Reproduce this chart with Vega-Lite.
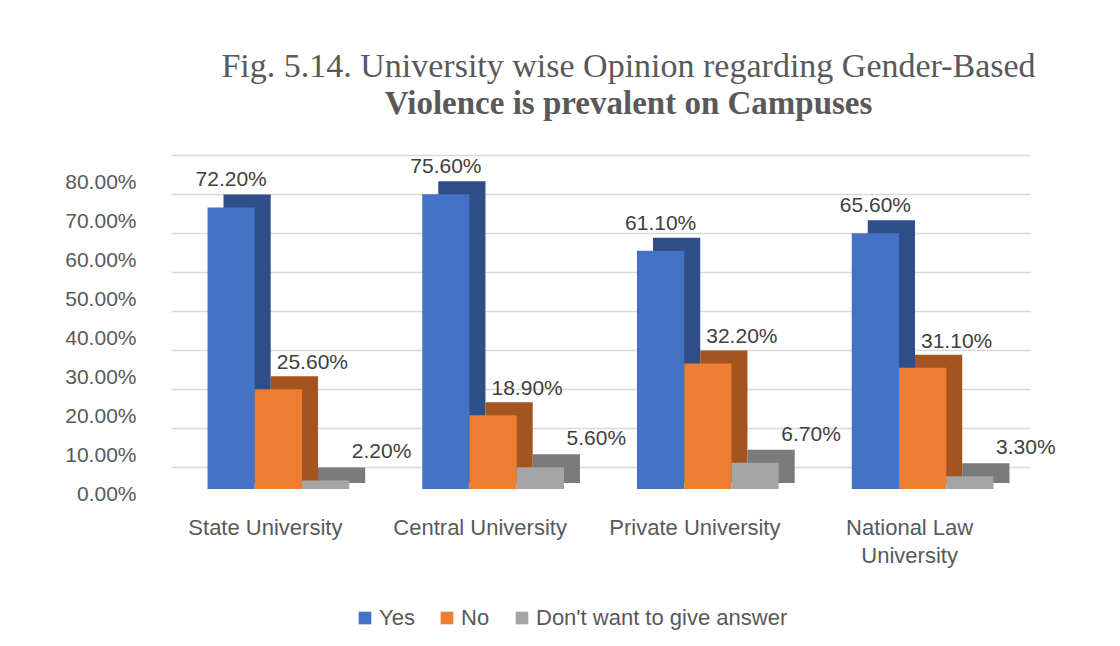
{
  "$schema": "https://vega.github.io/schema/vega-lite/v6.json",
  "autosize": "none",
  "width": 859,
  "height": 312,
  "padding": {"left": 171, "top": 155, "right": 90, "bottom": 179},
  "background": "white",
  "config": {
    "view": {"stroke": null},
    "font": "Liberation Sans"
  },
  "title": {
    "text": "Fig. 5.14.  University wise Opinion regarding  Gender-Based",
    "subtitle": "Violence is prevalent on Campuses",
    "font": "Liberation Serif",
    "fontSize": 34,
    "fontWeight": "normal",
    "color": "#595959",
    "subtitleFont": "Liberation Serif",
    "subtitleFontSize": 33,
    "subtitleFontWeight": "bold",
    "subtitleColor": "#595959",
    "subtitlePadding": 4,
    "anchor": "middle",
    "frame": "group",
    "dx": 28,
    "offset": 34
  },
  "data": {
    "values": [
      {"university": "State University", "response": "Yes", "value": 0.722},
      {"university": "State University", "response": "No", "value": 0.256},
      {"university": "State University", "response": "Don't want to give answer", "value": 0.022},
      {"university": "Central University", "response": "Yes", "value": 0.756},
      {"university": "Central University", "response": "No", "value": 0.189},
      {"university": "Central University", "response": "Don't want to give answer", "value": 0.056},
      {"university": "Private University", "response": "Yes", "value": 0.611},
      {"university": "Private University", "response": "No", "value": 0.322},
      {"university": "Private University", "response": "Don't want to give answer", "value": 0.067},
      {"university": "National Law University", "response": "Yes", "value": 0.656},
      {"university": "National Law University", "response": "No", "value": 0.311},
      {"university": "National Law University", "response": "Don't want to give answer", "value": 0.033}
    ]
  },
  "encoding": {
    "x": {
      "field": "university",
      "type": "nominal",
      "sort": ["State University", "Central University", "Private University", "National Law University"],
      "scale": {"paddingInner": 0.34, "paddingOuter": 0.17},
      "axis": {
        "title": null,
        "labelAngle": 0,
        "domain": false,
        "ticks": false,
        "labelPadding": 50,
        "labelOffset": -13,
        "labelFontSize": 22,
        "labelColor": "#595959",
        "labelFont": "Liberation Sans",
        "labelLineHeight": 28,
        "labelExpr": "datum.label == 'National Law University' ? ['National Law', 'University'] : datum.label"
      }
    },
    "y": {
      "field": "value",
      "type": "quantitative",
      "scale": {"domain": [0, 0.8], "nice": false},
      "axis": {
        "title": null,
        "values": [0, 0.1, 0.2, 0.3, 0.4, 0.5, 0.6, 0.7, 0.8],
        "format": ".2%",
        "domain": false,
        "ticks": false,
        "labelPadding": 35,
        "labelOffset": 27,
        "labelFontSize": 21,
        "labelColor": "#595959",
        "labelFont": "Liberation Sans",
        "grid": true,
        "gridColor": "#D9D9D9",
        "gridWidth": 1.5
      }
    }
  },
  "resolve": {"scale": {"xOffset": "independent"}},
  "layer": [
    {
      "mark": {"type": "bar", "yOffset": 9, "y2Offset": 16},
      "encoding": {
        "xOffset": {
          "field": "response",
          "type": "nominal",
          "sort": ["Yes", "No", "Don't want to give answer"],
          "scale": {"paddingInner": 0, "paddingOuter": 0, "range": [16, 157.7]}
        },
        "y2": {"datum": 0},
        "fill": {
          "condition": [
            {"test": "datum.response == 'Yes'", "value": "#2F4E88"},
            {"test": "datum.response == 'No'", "value": "#A3541F"}
          ],
          "value": "#7A7A7A"
        }
      }
    },
    {
      "encoding": {
        "xOffset": {
          "field": "response",
          "type": "nominal",
          "sort": ["Yes", "No", "Don't want to give answer"],
          "scale": {"paddingInner": 0, "paddingOuter": 0}
        }
      },
      "layer": [
        {
          "mark": {"type": "bar", "yOffset": 22},
          "encoding": {
            "color": {
              "field": "response",
              "type": "nominal",
              "sort": ["Yes", "No", "Don't want to give answer"],
              "scale": {"domain": ["Yes", "No", "Don't want to give answer"], "range": ["#4472C4", "#ED7D31", "#A5A5A5"]},
              "legend": {
                "title": null,
                "orient": "none",
                "legendX": 183,
                "legendY": 452,
                "direction": "horizontal",
                "symbolType": "square",
                "symbolSize": 160,
                "symbolStrokeWidth": 0,
                "labelFontSize": 22,
                "labelColor": "#595959",
                "labelFont": "Liberation Sans",
                "labelOffset": 3,
                "labelLimit": 0,
                "columnPadding": 21
              }
            }
          }
        },
        {
          "transform": [{"filter": "datum.response == 'Yes'"}],
          "mark": {"type": "text", "baseline": "middle", "align": "center", "yOffset": -5, "fontSize": 21, "color": "#404040", "font": "Liberation Sans"},
          "encoding": {"text": {"field": "value", "type": "quantitative", "format": ".2%"}}
        },
        {
          "transform": [{"filter": "datum.response == 'No'"}],
          "mark": {"type": "text", "baseline": "middle", "align": "center", "dx": 34, "yOffset": -4, "fontSize": 21, "color": "#404040", "font": "Liberation Sans"},
          "encoding": {"text": {"field": "value", "type": "quantitative", "format": ".2%"}}
        },
        {
          "transform": [{"filter": "datum.response == \"Don't want to give answer\""}],
          "mark": {"type": "text", "baseline": "middle", "align": "center", "dx": 56, "yOffset": -6, "fontSize": 21, "color": "#404040", "font": "Liberation Sans"},
          "encoding": {"text": {"field": "value", "type": "quantitative", "format": ".2%"}}
        }
      ]
    }
  ]
}
